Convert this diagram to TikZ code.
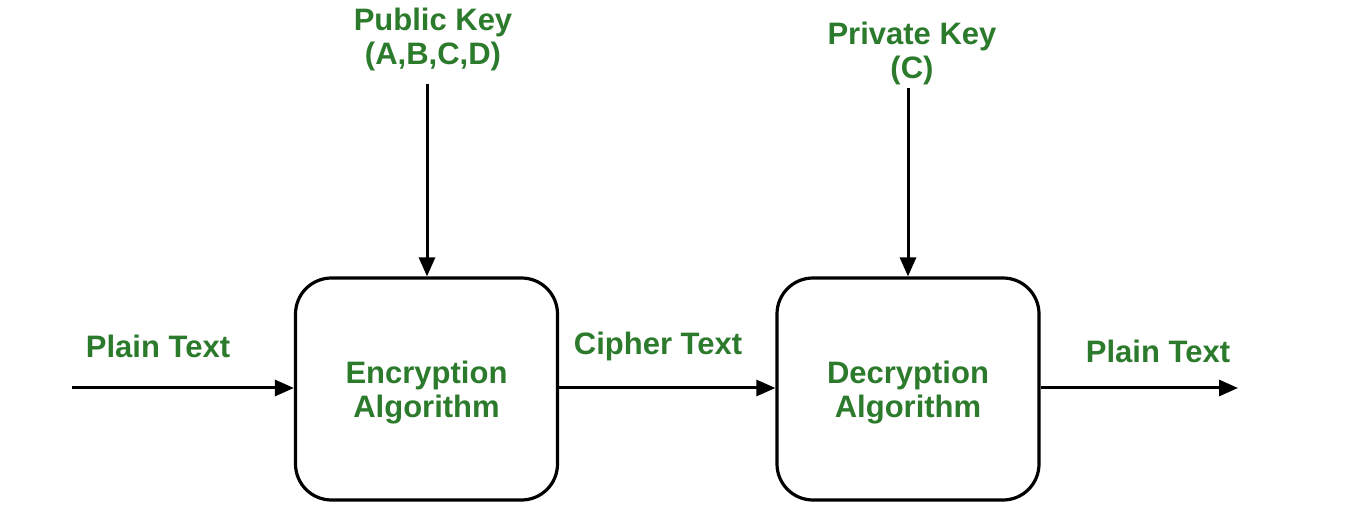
\documentclass[tikz,border=0pt]{standalone}
\usepackage{fontspec}
\setmainfont{Liberation Sans}
\usetikzlibrary{arrows.meta}
\definecolor{txtgreen}{RGB}{44,122,44}
\begin{document}
\begin{tikzpicture}[x=1pt,y=-1pt,
  algbox/.style={draw=black,line width=3.2pt,rounded corners=36pt,minimum width=262pt,minimum height=222pt,inner sep=0pt},
  lbl/.style={text=txtgreen,font=\fontsize{31}{34}\selectfont\bfseries,align=center,inner sep=0pt},
  conn/.style={line width=3pt,-{Triangle[length=19pt,width=16pt]}}]
\useasboundingbox (0,0) rectangle (1352,518);
\node[algbox] (enc) at (426.5,389) {};
\node[algbox] (dec) at (908,389) {};
\node[lbl] at ([yshift=-4pt]enc.center) (enct) {Encryption\\Algorithm};
\node[lbl] at ([yshift=-4pt]dec.center) (dect) {Decryption\\Algorithm};
\node[lbl] (pk) at (433,39) {Public Key\\(A,B,C,D)};
\node[lbl] (sk) at (912,53) {Private Key\\(C)};
\node[lbl] (pt1) at (158,346) {Plain Text};
\node[lbl] (ct) at (658,346) {Cipher Text};
\node[lbl] (pt2) at (1158,351) {Plain Text};
\coordinate (inL) at (72,388);
\coordinate (outR) at (1238,388);
\coordinate (pkS) at (427,84);
\coordinate (skS) at (908,88);
\draw[conn] (inL) -- (inL -| enc.west);
\draw[conn] (enc.east |- inL) -- (dec.west |- inL);
\draw[conn] (dec.east |- outR) -- (outR);
\draw[conn] (pkS) -- (pkS |- enc.north);
\draw[conn] (skS) -- (skS |- dec.north);
\end{tikzpicture}
\end{document}
